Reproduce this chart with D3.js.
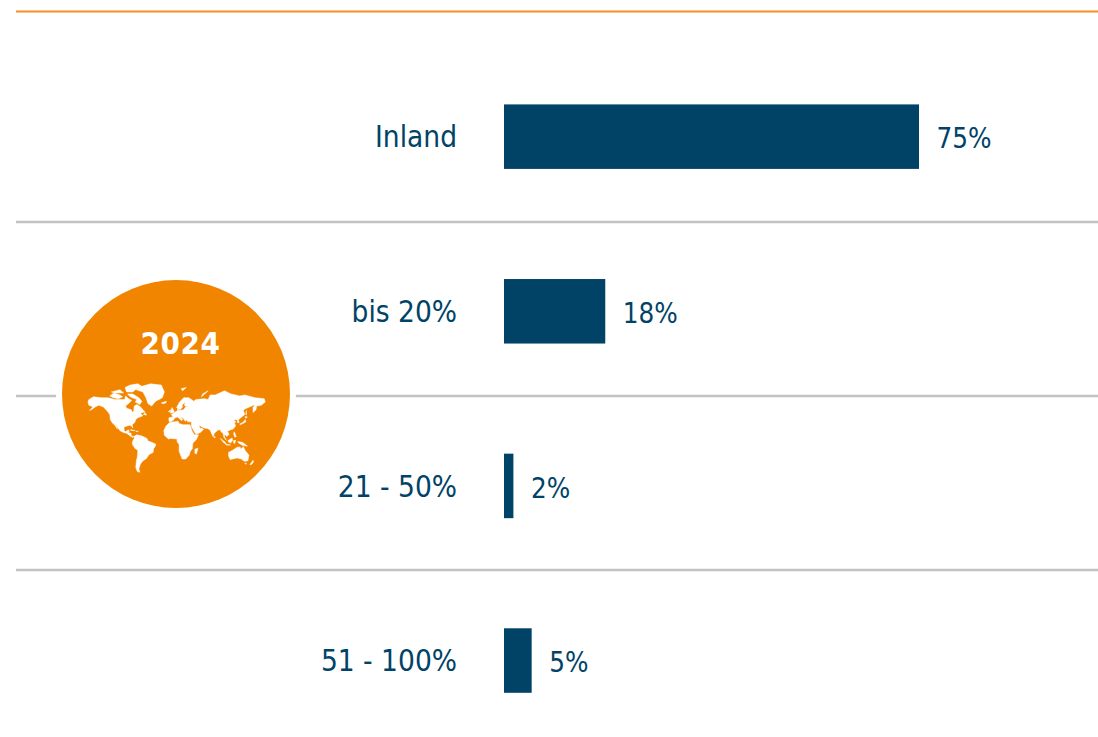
<!DOCTYPE html>
<html><head><meta charset="utf-8">
<script src="https://cdn.jsdelivr.net/npm/d3@7/dist/d3.min.js"></script>
<style>html,body{margin:0;padding:0;background:#fff;overflow:hidden}svg{display:block}
text{font-family:"DejaVu Sans",sans-serif;font-stretch:condensed}</style>
</head><body><svg id="c" width="1098" height="737"></svg>
<script>
const categories = ["Inland","bis 20%","21 - 50%","51 - 100%"];
const values = [75, 18.3, 1.7, 5];
const valueLabels = ["75%","18%","2%","5%"];
const badgeYear = "2024";

// Simplified continent outlines for the decorative badge icon [lon, lat]
const landNorthAmerica = [[-168,65],[-166,68],[-157,71],[-141,70],[-128,70],[-115,68],[-108,68],[-96,68],[-94,72],[-88,69],[-82,67],[-87,64],[-94,60],[-92,57],[-83,55],[-80,51],[-78,53],[-77,60],[-72,62],[-65,59],[-60,55],[-56,52],[-65,50],[-60,46],[-66,44],[-70,43],[-74,40],[-76,35],[-81,31],[-80,25],[-82,28],[-85,30],[-90,29],[-97,27],[-97,21],[-94,18],[-90,21],[-87,21],[-88,16],[-83,15],[-83,10],[-78,9],[-80,7],[-85,10],[-92,15],[-97,16],[-105,20],[-109,25],[-113,31],[-110,23],[-115,30],[-120,34],[-124,40],[-125,48],[-131,54],[-138,59],[-147,61],[-153,59],[-161,55],[-165,54],[-158,59],[-166,61]];
const landGreenland = [[-73,78],[-62,81],[-45,83],[-24,82],[-18,76],[-22,70],[-35,66],[-43,60],[-50,63],[-54,70],[-60,76]];
const landArctic1 = [[-125,72],[-117,75],[-105,73],[-100,71],[-108,69],[-118,70]];
const landArctic2 = [[-90,74],[-80,74],[-68,70],[-62,66],[-66,62],[-75,65],[-72,68],[-85,71]];
const landArctic3 = [[-95,80],[-85,82],[-70,83],[-62,81],[-75,78],[-80,76],[-92,76]];
const landArctic4 = [[-122,76],[-105,78],[-98,75],[-115,75]];
const landNewfoundland = [[-59,48],[-56,51],[-53,47]];
const landSouthAmerica = [[-78,9],[-72,12],[-62,10],[-52,5],[-50,0],[-44,-2],[-35,-6],[-35,-9],[-39,-15],[-40,-22],[-48,-26],[-53,-33],[-58,-36],[-62,-39],[-65,-43],[-68,-50],[-66,-55],[-71,-54],[-74,-48],[-73,-38],[-71,-30],[-70,-18],[-76,-14],[-81,-6],[-80,0],[-77,5]];
const landEurasia = [[-9,37],[-9,43],[-1,44],[-4,48],[2,51],[8,54],[8,57],[11,54],[20,55],[24,59],[30,60],[22,60],[22,65],[17,61],[18,59],[13,55],[6,58],[12,65],[20,70],[30,70],[40,66],[44,68],[60,69],[68,68],[72,73],[82,73],[100,77],[113,74],[130,72],[140,73],[160,70],[178,69],[180,65],[172,61],[163,60],[162,55],[156,51],[156,58],[160,62],[150,59],[140,56],[137,54],[140,48],[132,43],[127,39],[129,35],[126,34],[125,39],[121,40],[118,38],[122,37],[120,33],[122,29],[117,23],[110,21],[106,19],[109,13],[105,9],[100,13],[100,8],[104,1],[99,7],[97,16],[94,17],[91,22],[87,21],[80,15],[78,8],[73,18],[72,21],[67,24],[60,25],[56,27],[50,30],[52,24],[56,25],[59,22],[52,16],[44,13],[39,21],[35,28],[35,36],[28,36],[26,39],[23,37],[19,42],[14,45],[18,40],[16,38],[8,44],[3,43],[0,39],[-5,36]];
const landAfrica = [[-8,35],[9,37],[11,33],[19,31],[32,31],[34,27],[36,20],[41,12],[49,12],[45,3],[38,-4],[37,-15],[33,-20],[31,-27],[24,-34],[17,-34],[11,-20],[11,-7],[7,-1],[7,4],[-6,5],[-10,4],[-18,11],[-19,20],[-15,28]];
const landAustralia = [[108,-22],[116,-18],[125,-12],[131,-12],[132,-16],[137,-11],[141,-19],[148,-27],[146,-37],[139,-38],[133,-34],[125,-32],[111,-35],[108,-28]];
const landMisc = [
 [[-6,50],[-3,58],[1,53],[1,51]],[[-10,52],[-6,55],[-6,52]],[[-24,64],[-14,66],[-15,64],[-21,63]],
 [[42,-16],[48,-14],[45,-25],[42,-24]],[[92,5],[101,-2],[103,-6],[98,-3]],[[103,-6],[112,-8],[103,-8]],
 [[107,1],[115,6],[116,1],[112,-4],[108,-2]],[[118,1],[122,1],[120,-5],[118,-4]],[[126,-1],[136,-3],[145,-10],[136,-9],[128,-4]],
 [[119,18],[121,14],[123,8],[120,8],[118,14]],[[130,32],[136,35],[141,40],[142,36],[136,33],[131,31]],[[141,45],[145,44],[141,42]],
 [[143,54],[143,47],[142,50]],[[150,-43],[154,-39],[156,-36],[157,-39],[152,-44]],[[140,-41],[143,-41],[142,-43]],
 [[-84,22],[-75,20],[-78,20],[-84,21]],[[-74,19],[-69,19],[-71,18]],[[15,79],[25,80],[18,77]],[[55,71],[68,77],[57,74]],[[80,10],[82,7],[80,6]]
];

const w = 1098;
const svg = d3.select("#c");
const ink = "#004367", grid = "#c2c2c2", accent = "#f28500";

const x = d3.scaleLinear().domain([0,75]).range([504,919]);
const y = d3.scaleBand().domain(categories).range([49.4,747.8]).paddingInner(0.6306).paddingOuter(0.315);
const sepY = d3.scalePoint().domain(categories).range([222,744]);

// header rule
svg.append("line").attr("x1",16).attr("x2",w).attr("y1",11.5).attr("y2",11.5).attr("stroke","#f29020").attr("stroke-width",2.2);

// row separators
svg.selectAll("line.sep").data(categories.slice(0,-1)).join("line").attr("class","sep")
  .attr("x1",16).attr("x2",w)
  .attr("y1",d=>sepY(d)).attr("y2",d=>sepY(d))
  .attr("stroke",grid).attr("stroke-width",2.4);

// bars
svg.selectAll("rect.bar").data(categories).join("rect").attr("class","bar")
  .attr("x",x(0)).attr("y",d=>y(d)).attr("height",y.bandwidth())
  .attr("width",(d,i)=>x(values[i])-x(0)).attr("fill",ink);

// category labels
svg.selectAll("text.cat").data(categories).join("text").attr("class","cat")
  .attr("x",457).attr("y",d=>y(d)+y.bandwidth()/2+10.8).attr("text-anchor","end")
  .attr("font-size",29.5).attr("fill",ink).text(d=>d);

// value labels
svg.selectAll("text.val").data(categories).join("text").attr("class","val")
  .attr("x",(d,i)=>x(values[i])+17.5).attr("y",d=>y(d)+y.bandwidth()/2+11.7)
  .attr("font-size",27.5).attr("fill",ink).text((d,i)=>valueLabels[i]);

// badge
const cx=176, cy=394, r=114;
svg.append("circle").attr("cx",cx).attr("cy",cy).attr("r",r+6).attr("fill","#fff");
svg.append("circle").attr("cx",cx).attr("cy",cy).attr("r",r).attr("fill",accent);
svg.append("text").attr("x",cx+4.5).attr("y",353.5).attr("text-anchor","middle")
  .attr("font-size",31).attr("font-weight",700).attr("letter-spacing",0.6).attr("fill","#fff").text(badgeYear);

// Miller projection for the badge icon
const miller = (l,p)=>[l,1.25*Math.log(Math.tan(Math.PI/4+0.4*p))];
const proj = d3.geoProjection(miller).scale(29.2).translate([173.5,441]).precision(0);
const outline = d3.line().curve(d3.curveLinearClosed);
const shapes = [landNorthAmerica,landGreenland,landArctic1,landArctic2,landArctic3,landArctic4,landNewfoundland,landSouthAmerica,landEurasia,landAfrica,landAustralia,...landMisc];
svg.append("g").selectAll("path").data(shapes).join("path")
  .attr("d",s=>outline(s.map(p=>proj(p)))).attr("fill","#fff").attr("stroke","#fff").attr("stroke-width",0.5);
</script></body></html>
